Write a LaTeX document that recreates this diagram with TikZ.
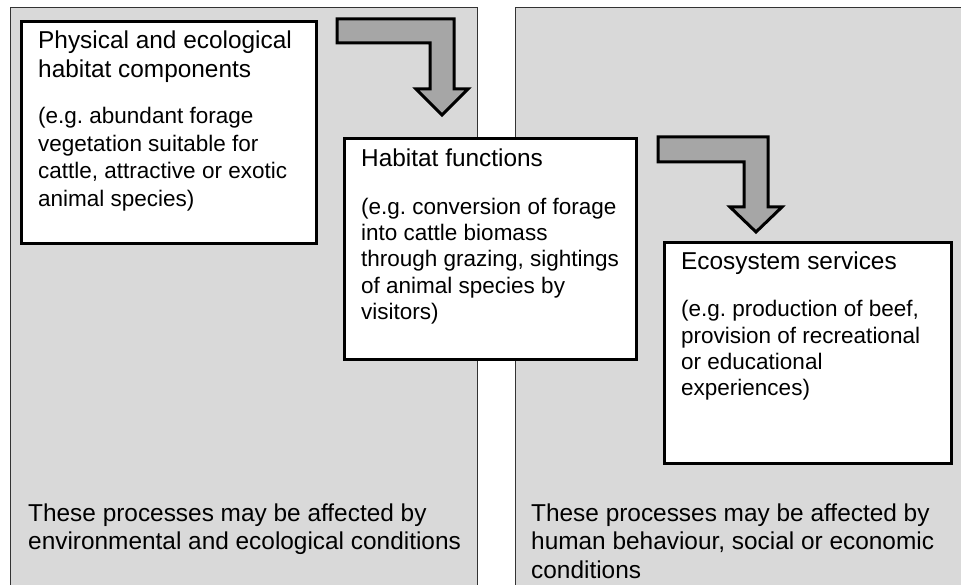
\documentclass[tikz,border=0pt]{standalone}
\usepackage{fontspec}
\setmainfont{Liberation Sans}
\frenchspacing
\definecolor{panelgray}{HTML}{D9D9D9}
\definecolor{arrowgray}{HTML}{A6A6A6}
\begin{document}
\begin{tikzpicture}[x=1pt,y=-1pt,
  panel/.style={fill=panelgray, draw=black!80, line width=1.2pt, anchor=north west, inner sep=0pt},
  box/.style={draw=black, fill=white, line width=3pt, anchor=north west, inner sep=0pt},
  txt/.style={anchor=base west, align=left, inner sep=0pt, font=\fontsize{24.4}{28.5}\selectfont},
  desc/.style={anchor=base west, align=left, inner sep=0pt, font=\fontsize{22.5}{26.3}\selectfont},
  barrow/.style={fill=arrowgray, draw=black, line width=3pt, line join=miter}]
\useasboundingbox (0,0) rectangle (961,585);
% panels
\node[panel, minimum width=467pt, minimum height=600pt] (leftpanel) at (10,7) {};
\node[panel, minimum width=470pt, minimum height=600pt] (rightpanel) at (515,7) {};
% boxes
\node[box, minimum width=295pt, minimum height=222pt] (comp) at (20,20) {};
\node[box, minimum width=292pt, minimum height=221pt] (func) at (343,137) {};
\node[box, minimum width=287pt, minimum height=221pt] (serv) at (663,241) {};
% block arrows
\draw[barrow] (337,19) -- (454,19) -- (454,89) -- (468,89) -- (442,115) -- (416,89) -- (430,89) -- (430,43) -- (337,43) -- cycle;
\draw[barrow] (658,137) -- (768,137) -- (768,207) -- (782,207) -- (756,232) -- (730,207) -- (744,207) -- (744,162) -- (658,162) -- cycle;
% texts (anchor = baseline of the last line)
\node[txt] (comptitle) at (38,77.5) {Physical and ecological\\habitat components};
\node[desc, font=\fontsize{22.5}{27.5}\selectfont] (compdesc) at (38,206.5) {(e.g. abundant forage\\vegetation suitable for\\cattle, attractive or exotic\\animal species)};
\node[txt] (functitle) at (361,167) {Habitat functions};
\node[desc] (funcdesc) at (361,319.5) {(e.g. conversion of forage\\into cattle biomass\\through grazing, sightings\\of animal species by\\visitors)};
\node[txt] (servtitle) at (681,270) {Ecosystem services};
\node[desc] (servdesc) at (681,395.6) {(e.g. production of beef,\\provision of recreational\\or educational\\experiences)};
\node[txt] (lefttext) at (28,549.5) {These processes may be affected by\\environmental and ecological conditions};
\node[txt] (righttext) at (531,578) {These processes may be affected by\\human behaviour, social or economic\\conditions};
\end{tikzpicture}
\end{document}
